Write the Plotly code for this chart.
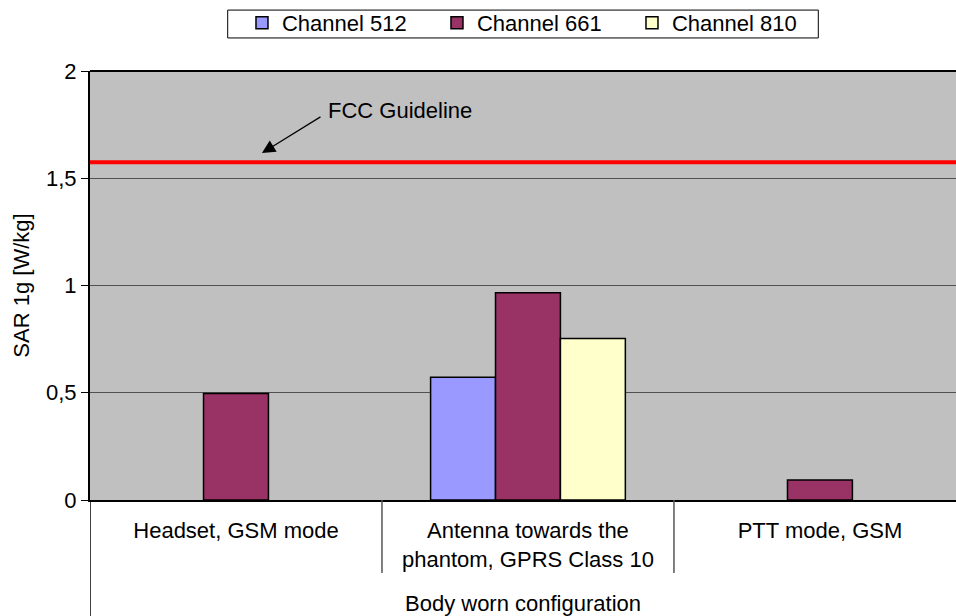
import plotly.graph_objects as go

categories = ["Headset, GSM mode", "Antenna towards the<br>phantom, GPRS Class 10", "PTT mode, GSM"]
group_label = "Body worn configuration"
series_names = ["Channel 512", "Channel 661", "Channel 810"]
ch512 = [None, 0.572, None]
ch661 = [0.497, 0.966, 0.093]
ch810 = [None, 0.753, None]
fcc_limit = 1.575
colors = ["#9999FF", "#993366", "#FFFFCC"]

FONT = "Liberation Sans, Arial, sans-serif"
FS = 22

fig = go.Figure()
for name, vals, col in zip(series_names, [ch512, ch661, ch810], colors):
    fig.add_trace(go.Bar(
        x=categories, y=vals, name=name,
        marker=dict(color=col, line=dict(color="black", width=1.5)),
    ))

# FCC guideline
fig.add_shape(type="line", xref="x domain", yref="y", x0=0, x1=1, y0=fcc_limit, y1=fcc_limit,
              line=dict(color="#FF0000", width=4))
# top border
fig.add_shape(type="line", xref="x domain", yref="y domain", x0=0, x1=1, y0=1, y1=1,
              line=dict(color="black", width=2))
# legend box
fig.add_shape(type="rect", xref="paper", yref="paper", x0=0.159, x1=0.841, y0=1.077, y1=1.142,
              line=dict(color="black", width=1), fillcolor="white", layer="below")
# category dividers below axis
for xv in [0.5, 1.5]:
    fig.add_shape(type="line", xref="x", yref="paper", x0=xv, x1=xv, y0=0, y1=-0.170,
                  line=dict(color="#555555", width=1.5))
fig.add_shape(type="line", xref="x", yref="paper", x0=-0.5, x1=-0.5, y0=0, y1=-0.28,
              line=dict(color="black", width=1.5))

fig.add_annotation(x=0.562, y=1.818, xref="x", yref="y", text="FCC Guideline", showarrow=False,
                   font=dict(family=FONT, size=FS, color="black"))
fig.add_annotation(x=0.089, y=1.618, xref="x", yref="y", text="", showarrow=True,
                   ax=60, ay=-37, arrowhead=2, arrowsize=2.2, arrowwidth=1.2, arrowcolor="black",
                   standoff=0)

fig.update_layout(
    width=956, height=616,
    margin=dict(l=90, r=0, t=71, b=116),
    paper_bgcolor="white", plot_bgcolor="#C0C0C0",
    separators=", ",
    barmode="group", bargap=0.333, bargroupgap=0,
    font=dict(family=FONT, size=FS, color="black"),
    showlegend=True,
    legend=dict(orientation="h", x=0.1755, xanchor="left", y=1.161, yanchor="top",
                bgcolor="rgba(0,0,0,0)", borderwidth=0,
                font=dict(family=FONT, size=FS), itemwidth=30,
                entrywidth=150, entrywidthmode="pixels", traceorder="normal"),
    xaxis=dict(range=[-0.5, 2.466], showgrid=False, showline=True, linecolor="black", linewidth=2,
               ticks="", ticklabelstandoff=10, tickfont=dict(family=FONT, size=FS),
               title=dict(text=group_label, standoff=29, font=dict(family=FONT, size=FS))),
    yaxis=dict(range=[0, 2], dtick=0.5, showgrid=True, gridcolor="#505050", gridwidth=1,
               showline=True, linecolor="black", linewidth=2, ticks="outside", ticklen=7,
               tickcolor="black", zeroline=False, tickfont=dict(family=FONT, size=FS),
               title=dict(text="SAR 1g [W/kg]", standoff=10, font=dict(family=FONT, size=FS))),
)

fig.write_html("out.html", config={"displayModeBar": False},
               post_script="document.body.style.margin='0';")
